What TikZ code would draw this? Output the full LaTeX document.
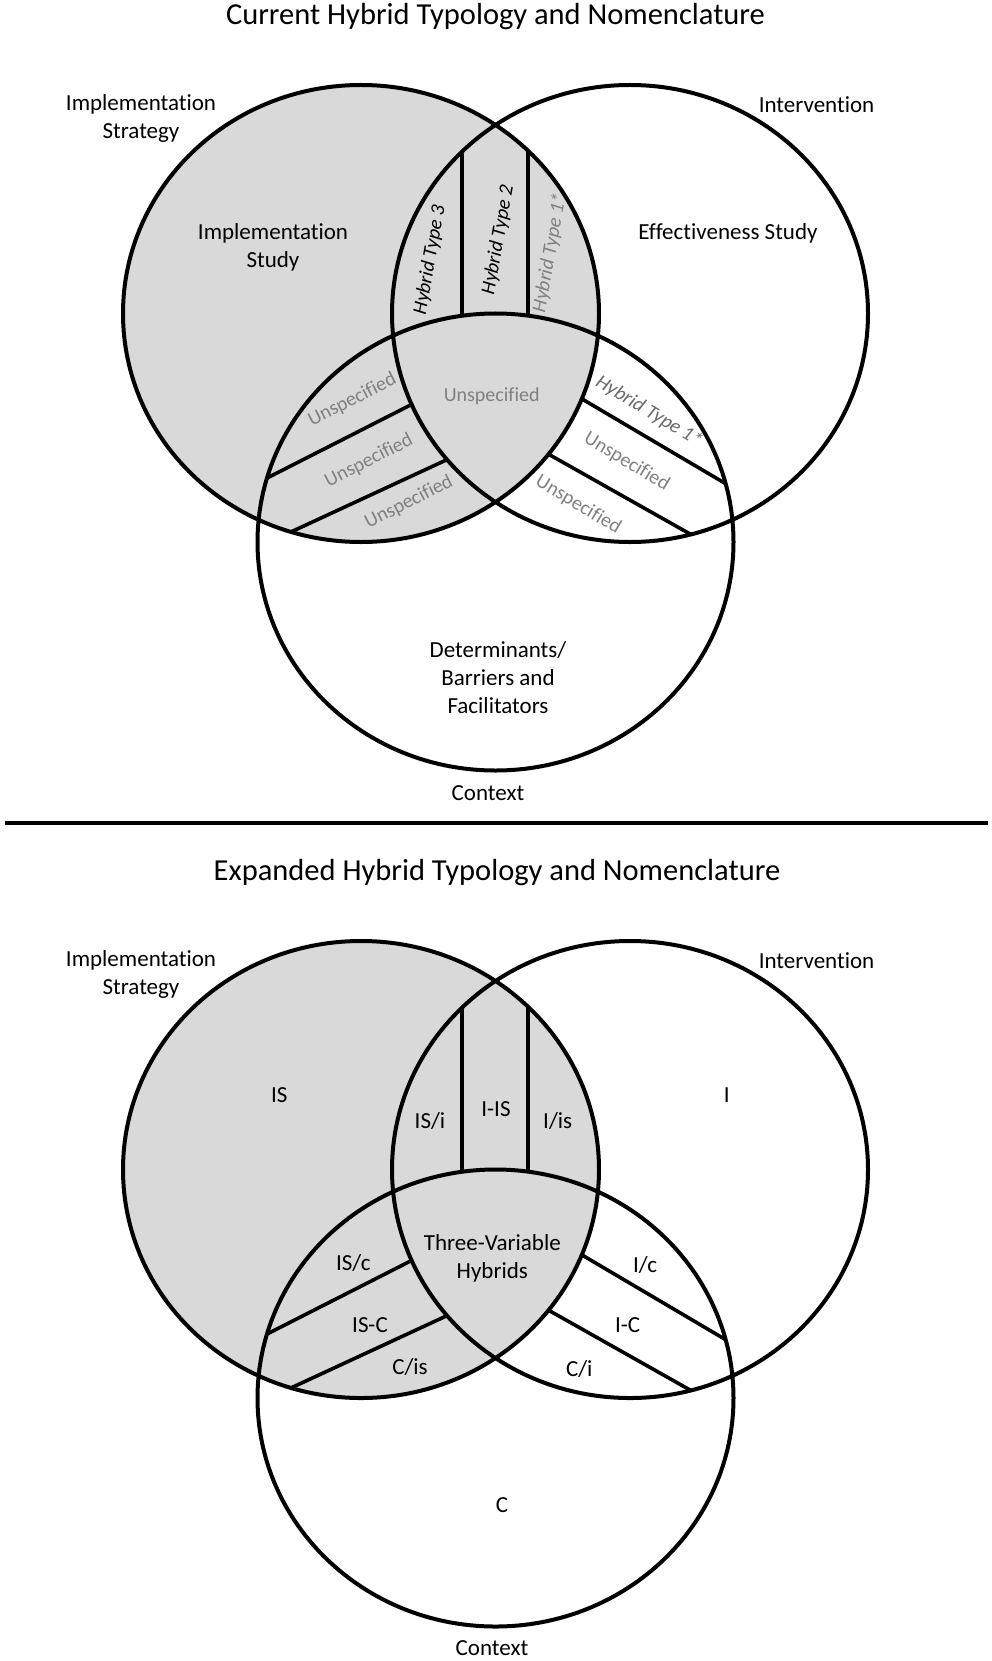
\documentclass[tikz,border=0pt]{standalone}
\usepackage{fontspec}
\setmainfont{Carlito}[Ligatures=NoCommon]
\usepackage{tikz}
\usetikzlibrary{positioning}
\usepackage{xcolor}
\definecolor{venn-fill}{HTML}{D9D9D9}
\definecolor{venn-grey}{HTML}{808080}
\definecolor{venn-dark}{HTML}{6A6A6A}
\newcommand{\ellIS}{(361,313.5) ellipse [x radius=238pt, y radius=228.5pt]}
\newcommand{\ellI}{(630,313.5) ellipse [x radius=238pt, y radius=228.5pt]}
\newcommand{\ellC}{(495.5,542) ellipse [x radius=238pt, y radius=228.5pt]}
\newcommand{\venntriple}[1]{%  \venntriple{y offset}
  \begin{scope}[shift={(0,#1)}]
    \fill[venn-fill] \ellIS;
    % strips of the three lenses
    \begin{scope}
      \clip \ellIS; \clip \ellI;
      \draw[divider] (462,110) -- (462,330) (527.7,110) -- (527.7,330);
    \end{scope}
    \begin{scope}
      \clip \ellIS; \clip \ellC;
      \draw[divider] (249,487.2) -- (431,394.6) (270.3,541.5) -- (466.7,450.5);
    \end{scope}
    \begin{scope}
      \clip \ellI; \clip \ellC;
      \draw[divider] (563.4,388) -- (744.2,494.6) (530.8,444.2) -- (711.9,546.3);
    \end{scope}
    % centre
    \begin{scope}
      \clip \ellIS; \clip \ellI;
      \fill[venn-fill] \ellC;
    \end{scope}
    \draw[venn-line] \ellIS \ellI \ellC;
  \end{scope}}

\begin{document}
\begin{tikzpicture}[x=1pt, y=-1pt,
    venn-line/.style={line width=4pt},
    divider/.style={line width=3.6pt},
    headline/.style={font=\fontsize{30.5}{36}\selectfont, inner sep=0pt},
    setname/.style={font=\fontsize{23}{28}\selectfont, align=center, inner sep=0pt},
    strip/.style={font=\fontsize{20}{24}\selectfont, inner sep=0pt},
    strip-it/.style={strip, font=\fontsize{20}{24}\selectfont\itshape},
    strip-grey/.style={strip, text=venn-grey}]
  \useasboundingbox (0,0) rectangle (992,1661);
  \venntriple{0}
  \venntriple{856}
  \draw[line width=4pt] (5,822.7) -- (988,822.7);
  % Top: current typology
  \node[headline] (title-cur) at (495.5,17) {Current Hybrid Typology and Nomenclature};
  \node[setname] (set-is) at (141,118) {Implementation\\Strategy};
  \node[setname] (set-i) at (816.5,105) {Intervention};
  \node[setname] (set-c) at (488,793) {Context};
  \node[setname] (reg-is) at (273,247) {Implementation\\Study};
  \node[setname] (reg-i) at (728,233) {Effectiveness Study};
  \node[setname] (reg-c) at (498,678) {Determinants/\\Barriers and\\Facilitators};
  \node[strip-it, rotate=80] (type-3) at (430,260) {Hybrid Type 3};
  \node[strip-it, rotate=80] (type-2) at (498.3,240) {Hybrid Type 2};
  \node[strip-it, rotate=80, text=venn-grey] (type-1a) at (550,253) {Hybrid Type 1*};
  \node[strip-grey] (unsp-c) at (491.7,396) {Unspecified};
  \node[strip-grey, rotate=27] (unsp-l1) at (352.3,400) {Unspecified};
  \node[strip-grey, rotate=27] (unsp-l2) at (369,460.7) {Unspecified};
  \node[strip-grey, rotate=27] (unsp-l3) at (409,502.3) {Unspecified};
  \node[strip-it, rotate=-31, text=venn-dark] (type-1b) at (649,411.7) {Hybrid Type 1*};
  \node[strip-grey, rotate=-31] (unsp-r1) at (626.7,461.7) {Unspecified};
  \node[strip-grey, rotate=-31] (unsp-r2) at (578.3,505) {Unspecified};
  % Bottom: expanded typology
  \node[headline] (title-exp) at (497,873) {Expanded Hybrid Typology and Nomenclature};
  \node[setname] (set-is2) at (141,974) {Implementation\\Strategy};
  \node[setname] (set-i2) at (816.5,961) {Intervention};
  \node[setname] (set-c2) at (492,1648) {Context};
  \node[setname] (reg-is2) at (279.3,1095) {IS};
  \node[setname] (reg-i2) at (726.7,1095) {I};
  \node[setname] (reg-c2) at (502,1505) {C};
  \node[setname] (is-i) at (430,1120.7) {IS/i};
  \node[setname] (i-is) at (496,1109.3) {I-IS};
  \node[setname] (i-s) at (557.7,1120.7) {I/is};
  \node[setname] (three) at (492.3,1258) {Three-Variable\\Hybrids};
  \node[setname] (is-c) at (353.3,1263.3) {IS/c};
  \node[setname] (isc) at (370,1325) {IS-C};
  \node[setname] (c-is) at (410,1367.3) {C/is};
  \node[setname] (i-c) at (645,1265) {I/c};
  \node[setname] (ic) at (627.7,1325) {I-C};
  \node[setname] (c-i) at (579.3,1369.3) {C/i};
\end{tikzpicture}
\end{document}
